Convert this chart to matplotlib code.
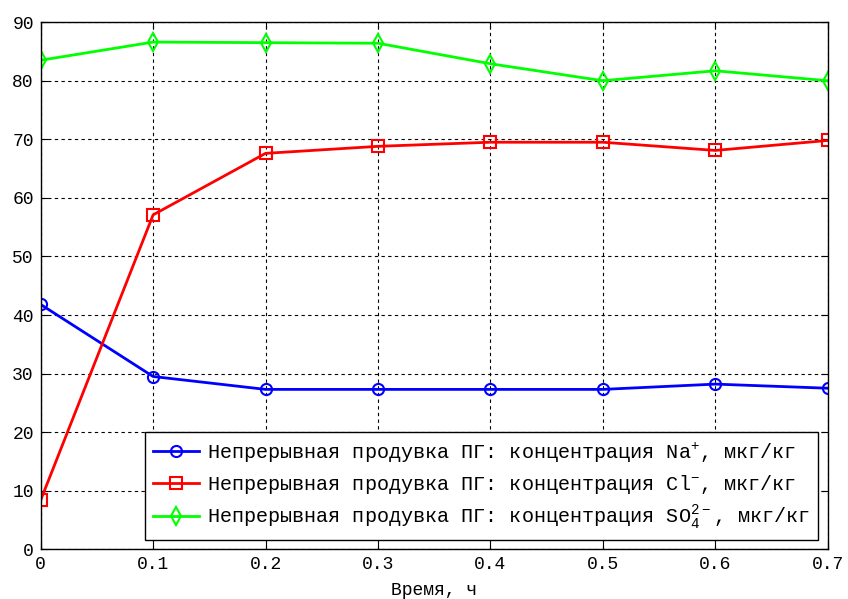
import matplotlib
matplotlib.use('Agg')
import matplotlib.pyplot as plt

plt.rcParams['font.family'] = ['Liberation Mono', 'DejaVu Sans Mono']
plt.rcParams['mathtext.default'] = 'regular'

## данные
t = [0, 0.1, 0.2, 0.3, 0.4, 0.5, 0.6, 0.7]
na = [41.8, 29.5, 27.3, 27.3, 27.3, 27.3, 28.2, 27.5]
cl = [8.4, 57.1, 67.6, 68.8, 69.5, 69.5, 68.1, 69.8]
so4 = [83.5, 86.6, 86.5, 86.4, 82.9, 80.0, 81.7, 80.0]

x_ticks = [0, 0.1, 0.2, 0.3, 0.4, 0.5, 0.6, 0.7]
x_labels = ['0', '0.1', '0.2', '0.3', '0.4', '0.5', '0.6', '0.7']
y_ticks = [0, 10, 20, 30, 40, 50, 60, 70, 80, 90]

lab_na = 'Непрерывная продувка ПГ: концентрация Na$^{+}$, мкг/кг'
lab_cl = 'Непрерывная продувка ПГ: концентрация Cl$^{-}$, мкг/кг'
lab_so = 'Непрерывная продувка ПГ: концентрация SO$_{4}^{2-}$, мкг/кг'

fig = plt.figure(figsize=(8.48, 5.99), dpi=100)
ax = fig.add_axes([0.048, 0.083, 0.928, 0.880])

ax.plot(t, na, color='#0000ff', lw=2, marker='o', ms=8, mfc='none', mew=1.5, label=lab_na)
ax.plot(t, cl, color='#ff0000', lw=2, marker='s', ms=9, mfc='none', mew=1.5, label=lab_cl)
ax.plot(t, so4, color='#00ff00', lw=2, marker='d', ms=9, mfc='none', mew=1.5, label=lab_so)

ax.set_xlim(0, 0.7)
ax.set_ylim(0, 90)
ax.set_xticks(x_ticks)
ax.set_xticklabels(x_labels)
ax.set_yticks(y_ticks)
ax.tick_params(direction='in', top=True, right=True, labelsize=13, length=5, pad=5)
ax.grid(True, color='black', linestyle=(0, (3, 3)), linewidth=0.8)
for s in ax.spines.values():
    s.set_linewidth(1)
ax.set_xlabel('Время, ч', fontsize=13, labelpad=6)

leg = ax.legend(loc='lower right', bbox_to_anchor=(0.988, 0.018), fontsize=14.5,
                fancybox=False, framealpha=1, edgecolor='black',
                handlelength=2.3, handletextpad=0.4, borderpad=0.4,
                labelspacing=0.4, borderaxespad=0)
leg.get_frame().set_linewidth(1)

fig.savefig('out.png', dpi=100)
